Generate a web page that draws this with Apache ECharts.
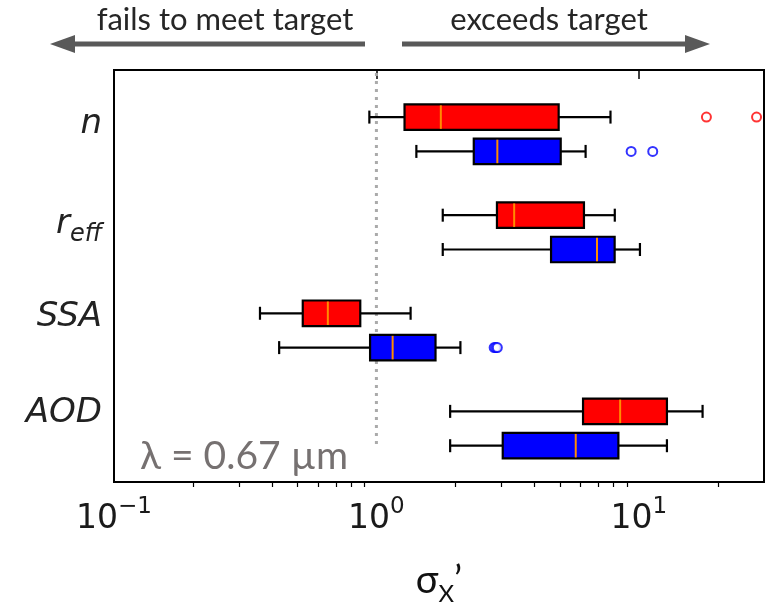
<!DOCTYPE html>
<html lang="en">

<head>
  <meta charset="UTF-8">
  <title>sigma x prime</title>
</head>

<body style="margin:0">
  <div id="main" style="width: 767px;height: 611px;"></div>
</body>
<script src="https://cdn.jsdelivr.net/npm/echarts@6.0.0/dist/echarts.min.js"></script>
<script>
  // categories top to bottom
  var categories = ['n', 'r_eff', 'SSA', 'AOD'];
  // [whisker low, q1, median, q3, whisker high]
  var redStats = [
    [0.94, 1.28, 1.76, 4.95, 7.8],
    [1.79, 2.88, 3.35, 6.18, 8.1],
    [0.36, 0.524, 0.653, 0.868, 1.35],
    [1.91, 6.13, 8.49, 12.8, 17.5]
  ];
  var blueStats = [
    [1.42, 2.35, 2.89, 5.04, 6.27],
    [1.79, 4.63, 6.93, 8.09, 10.1],
    [0.426, 0.946, 1.153, 1.68, 2.09],
    [1.91, 3.03, 5.75, 8.36, 12.8]
  ];
  // [category index, value]
  var redOutliers = [[0, 18.1], [0, 28.1]];
  var blueOutliers = [[0, 9.35], [0, 11.3], [2, 2.81], [2, 2.85], [2, 2.89]];
  var majorTicks = [0.1, 1, 10];
  var minorTicks = [0.2, 0.3, 0.4, 0.5, 0.6, 0.7, 0.8, 0.9, 2, 3, 4, 5, 6, 7, 8, 9, 20];
  var targetLine = [[1, 0.03], [1, 3.85]];

  var redOffset = 0.48, blueOffset = 0.83;
  var labelPos = [0.58, 1.6, 2.55, 3.53];

  function toBoxData(stats, off) {
    return stats.map(function (s, i) { return s.concat([i + off]); });
  }
  function toOutData(list, off) {
    return list.map(function (o) { return [o[1], o[0] + off]; });
  }

  function renderBox(params, api) {
    var y = api.value(5);
    var lo = api.coord([api.value(0), y]);
    var q1 = api.coord([api.value(1), y]);
    var med = api.coord([api.value(2), y]);
    var q3 = api.coord([api.value(3), y]);
    var hi = api.coord([api.value(4), y]);
    var a = api.coord([1, y - 0.13])[1];
    var b = api.coord([1, y + 0.13])[1];
    var top = Math.min(a, b), h = Math.abs(b - a);
    var cy = lo[1], cap = 6.5;
    var ls = { stroke: '#000', lineWidth: 2.2 };
    return {
      type: 'group',
      children: [
        { type: 'line', shape: { x1: lo[0], y1: cy, x2: q1[0], y2: cy }, style: ls },
        { type: 'line', shape: { x1: q3[0], y1: cy, x2: hi[0], y2: cy }, style: ls },
        { type: 'line', shape: { x1: lo[0], y1: cy - cap, x2: lo[0], y2: cy + cap }, style: ls },
        { type: 'line', shape: { x1: hi[0], y1: cy - cap, x2: hi[0], y2: cy + cap }, style: ls },
        {
          type: 'rect', shape: { x: q1[0], y: top, width: q3[0] - q1[0], height: h },
          style: { fill: api.visual('color'), stroke: '#000', lineWidth: 2.2 }
        },
        { type: 'line', shape: { x1: med[0], y1: top + 1, x2: med[0], y2: top + h - 1 }, style: { stroke: '#ff8c00', lineWidth: 2 } }
      ]
    };
  }

  var chartDom = document.getElementById('main');
  var myChart = echarts.init(chartDom);
  var option;

  option = {
    animation: false,
    backgroundColor: '#fff',
    grid: {
      left: 114, right: 3, top: 70, bottom: 120,
      show: true, borderColor: '#000', borderWidth: 2, backgroundColor: 'transparent'
    },
    xAxis: [
      {
        type: 'log', logBase: 10, min: 0.1, max: 30,
        axisLine: { show: true, lineStyle: { color: '#000', width: 2 } },
        axisTick: { show: true, customValues: majorTicks, length: 9, lineStyle: { color: '#000', width: 1.5 } },
        splitLine: { show: false },
        axisLabel: {
          customValues: majorTicks,
          margin: 14,
          formatter: function (v) {
            var e = Math.round(Math.log10(v));
            return '{b|10}{s|' + (e < 0 ? '\u2212' + (-e) : e) + '}';
          },
          rich: {
            b: { fontFamily: 'DejaVu Sans', fontSize: 33, color: '#1a1a1a', lineHeight: 40, verticalAlign: 'bottom' },
            s: { fontFamily: 'DejaVu Sans', fontSize: 23, color: '#1a1a1a', lineHeight: 24, verticalAlign: 'top' }
          }
        },
        name: '{a|\u03c3}{b|X}{a|\u2019}',
        nameLocation: 'middle',
        nameGap: 80,
        nameTextStyle: {
          rich: {
            a: { fontFamily: 'Lato', fontSize: 38, color: '#111', lineHeight: 44, verticalAlign: 'top' },
            b: { fontFamily: 'Lato', fontSize: 24, color: '#111', lineHeight: 44, verticalAlign: 'bottom' }
          }
        }
      },
      {
        type: 'log', logBase: 10, min: 0.1, max: 30, position: 'bottom',
        axisLine: { show: false },
        axisTick: { show: true, customValues: minorTicks, length: 5, lineStyle: { color: '#000', width: 1.2 } },
        axisLabel: { show: false },
        splitLine: { show: false }
      }
    ],
    yAxis: {
      type: 'value', inverse: true, min: 0, max: 4.2,
      axisLine: { show: true, lineStyle: { color: '#000', width: 2 } },
      axisTick: { show: false },
      splitLine: { show: false },
      axisLabel: {
        customValues: labelPos,
        margin: 12,
        formatter: function (v) {
          var i = 0;
          labelPos.forEach(function (p, k) { if (Math.abs(p - v) < 1e-6) i = k; });
          var c = categories[i];
          if (c === 'r_eff') return '{i|r}{s|eff}';
          return '{i|' + c + '}';
        },
        rich: {
          i: { fontFamily: 'DejaVu Sans', fontStyle: 'italic', fontSize: 34, color: '#222', lineHeight: 40, verticalAlign: 'top' },
          s: { fontFamily: 'DejaVu Sans', fontStyle: 'italic', fontSize: 24, color: '#222', lineHeight: 40, verticalAlign: 'bottom' }
        }
      }
    },
    graphic: [
      { type: 'text', x: 225, y: 20, style: { text: 'fails to meet target', fontFamily: 'Lato', fontSize: 31, fill: '#262626', align: 'center', verticalAlign: 'middle' } },
      { type: 'text', x: 549, y: 20, style: { text: 'exceeds target', fontFamily: 'Lato', fontSize: 31, fill: '#262626', align: 'center', verticalAlign: 'middle' } },
      { type: 'line', shape: { x1: 66, y1: 44, x2: 365, y2: 44 }, style: { stroke: '#595959', lineWidth: 5 } },
      { type: 'polygon', shape: { points: [[50, 44], [75, 35], [75, 53]] }, style: { fill: '#595959' } },
      { type: 'line', shape: { x1: 402, y1: 44, x2: 694, y2: 44 }, style: { stroke: '#595959', lineWidth: 5 } },
      { type: 'polygon', shape: { points: [[710, 44], [685, 35], [685, 53]] }, style: { fill: '#595959' } },
      { type: 'text', x: 140, y: 456, style: { text: '\u03bb = 0.67 \u00b5m', fontFamily: 'Lato', fontSize: 39, fill: '#767171', align: 'left', verticalAlign: 'middle' } }
    ],
    series: [
      {
        type: 'line', data: targetLine, symbol: 'none', silent: true,
        lineStyle: { color: '#aaaaaa', width: 3, type: [3, 5] }, z: 1
      },
      {
        type: 'custom', renderItem: renderBox, data: toBoxData(redStats, redOffset),
        encode: { x: [0, 1, 2, 3, 4], y: 5 }, itemStyle: { color: '#ff0000' }, z: 3
      },
      {
        type: 'custom', renderItem: renderBox, data: toBoxData(blueStats, blueOffset),
        encode: { x: [0, 1, 2, 3, 4], y: 5 }, itemStyle: { color: '#0000ff' }, z: 3
      },
      {
        type: 'scatter', data: toOutData(redOutliers, redOffset), symbol: 'emptyCircle', symbolSize: 9,
        itemStyle: { color: '#ff0000', borderWidth: 2.5 }, z: 4
      },
      {
        type: 'scatter', data: toOutData(blueOutliers, blueOffset), symbol: 'emptyCircle', symbolSize: 9,
        itemStyle: { color: '#0000ff', borderWidth: 2.5 }, z: 4
      }
    ]
  };

  option && myChart.setOption(option);
</script>

</html>
